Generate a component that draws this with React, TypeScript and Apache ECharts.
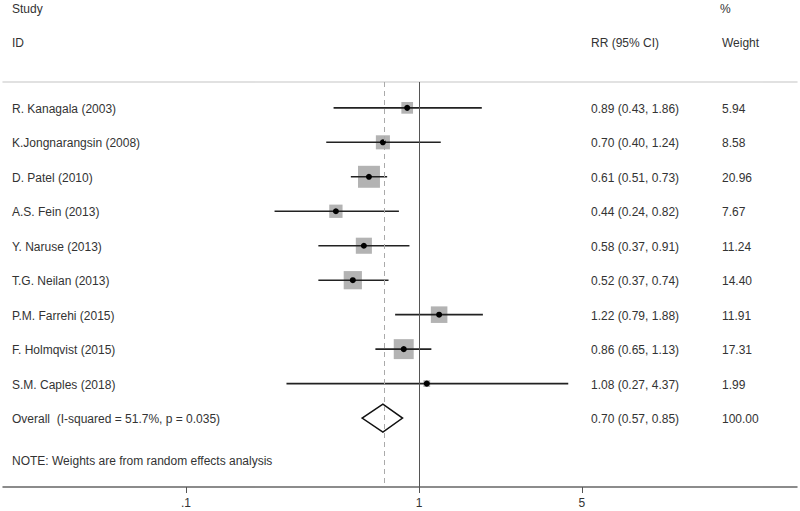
import React, { useEffect, useRef } from "react";
import * as echarts from "echarts";

const studies = [
  "R. Kanagala (2003)",
  "K.Jongnarangsin (2008)",
  "D. Patel (2010)",
  "A.S. Fein (2013)",
  "Y. Naruse (2013)",
  "T.G. Neilan (2013)",
  "P.M. Farrehi (2015)",
  "F. Holmqvist (2015)",
  "S.M. Caples (2018)",
];
const rr = [0.89, 0.7, 0.61, 0.44, 0.58, 0.52, 1.22, 0.86, 1.08];
const lower = [0.43, 0.4, 0.51, 0.24, 0.37, 0.37, 0.79, 0.65, 0.27];
const upper = [1.86, 1.24, 0.73, 0.82, 0.91, 0.74, 1.88, 1.13, 4.37];
const weights = [5.94, 8.58, 20.96, 7.67, 11.24, 14.4, 11.91, 17.31, 1.99];

const overallLabel = "Overall  (I-squared = 51.7%, p = 0.035)";
const overall = { rr: 0.7, lower: 0.57, upper: 0.85, weight: 100.0 };

const tickValues = [0.1, 1, 5];
const tickLabels = [".1", "1", "5"];

const FONT = "'Liberation Sans', Arial, Helvetica, sans-serif";
const TXT = "#333";

const lg = (v: number) => Math.log10(v);
const fmt = (v: number) => v.toFixed(2);

export default function App() {
  const ref = useRef<HTMLDivElement>(null);
  useEffect(() => {
    if (!ref.current) return;
    const chart = echarts.init(ref.current, null, { renderer: "svg" });

    const rows = studies.map((s, i) => [lg(rr[i]), i, lg(lower[i]), lg(upper[i]), weights[i], 0]);
    rows.push([lg(overall.rr), studies.length, lg(overall.lower), lg(overall.upper), overall.weight, 1]);
    const names = [...studies, overallLabel];
    const rrAll = [...rr, overall.rr];
    const loAll = [...lower, overall.lower];
    const hiAll = [...upper, overall.upper];
    const wAll = [...weights, overall.weight];

    const tickLog = tickValues.map(lg);

    const textStyle = (x: number, y: number, text: string) => ({
      type: "text",
      x,
      y,
      style: {
        text,
        fill: TXT,
        font: `12px ${FONT}`,
        textAlign: "left",
        textVerticalAlign: "middle",
      },
    });

    const option: any = {
      animation: false,
      grid: { left: 3, right: 3, top: 82, bottom: 24, show: false },
      xAxis: [
        {
          type: "value",
          min: -1.785,
          max: 1.622,
          splitLine: { show: false },
          axisLine: { show: true, onZero: false, lineStyle: { color: "#666", width: 1.5 } },
          axisTick: {
            show: true,
            customValues: tickLog,
            length: 6,
            lineStyle: { color: "#555", width: 1 },
          },
          axisLabel: {
            show: true,
            customValues: tickLog,
            margin: 10,
            color: TXT,
            fontSize: 12,
            fontFamily: FONT,
            formatter: (v: number) => {
              const idx = tickLog.findIndex((t) => Math.abs(t - v) < 1e-6);
              return idx >= 0 ? tickLabels[idx] : "";
            },
          },
        },
        {
          type: "value",
          position: "top",
          min: -1.785,
          max: 1.622,
          splitLine: { show: false },
          axisLine: { show: true, onZero: false, lineStyle: { color: "#d8d8d8", width: 1.5 } },
          axisTick: { show: false },
          axisLabel: { show: false },
        },
      ],
      yAxis: {
        type: "value",
        inverse: true,
        min: -0.75,
        max: 11,
        show: false,
      },
      series: [
        {
          type: "custom",
          xAxisIndex: 0,
          clip: false,
          encode: { x: [0, 2, 3], y: 1 },
          data: rows,
          renderItem: (params: any, api: any) => {
            const i = params.dataIndex;
            const est = api.value(0);
            const row = api.value(1);
            const lo = api.value(2);
            const hi = api.value(3);
            const w = api.value(4);
            const isOverall = api.value(5) === 1;
            const pE = api.coord([est, row]);
            const pL = api.coord([lo, row]);
            const pH = api.coord([hi, row]);
            const y = pE[1];
            const children: any[] = [];
            if (isOverall) {
              const h = 14;
              children.push({
                type: "polygon",
                shape: {
                  points: [
                    [pL[0], y],
                    [pE[0], y - h],
                    [pH[0], y],
                    [pE[0], y + h],
                  ],
                },
                style: { fill: "#fff", stroke: "#111", lineWidth: 1.5 },
              });
            } else {
              const side = 4.8 * Math.sqrt(w);
              children.push({
                type: "rect",
                shape: { x: pE[0] - side / 2, y: y - side / 2, width: side, height: side },
                style: { fill: "#b3b3b3" },
              });
              children.push({
                type: "line",
                shape: { x1: pL[0], y1: y, x2: pH[0], y2: y },
                style: { stroke: "#222", lineWidth: 1.6 },
              });
              children.push({
                type: "circle",
                shape: { cx: pE[0], cy: y, r: 3 },
                style: { fill: "#000" },
              });
            }
            children.push(textStyle(12, y + 1, names[i]));
            children.push(
              textStyle(591, y + 1, `${fmt(rrAll[i])} (${fmt(loAll[i])}, ${fmt(hiAll[i])})`)
            );
            children.push(textStyle(722, y + 1, fmt(wAll[i])));
            return { type: "group", children };
          },
          markLine: {
            silent: true,
            symbol: "none",
            label: { show: false },
            data: [
              { xAxis: 0, lineStyle: { color: "#555", width: 1, type: "solid" } },
              { xAxis: lg(overall.rr), lineStyle: { color: "#aaa", width: 1, type: [5, 4] } },
            ],
          },
          z: 3,
        },
      ],
      graphic: [
        textStyle(12, 9, "Study"),
        textStyle(12, 43, "ID"),
        textStyle(720, 9, "%"),
        textStyle(591, 43, "RR (95% CI)"),
        textStyle(722, 43, "Weight"),
        textStyle(12, 461, "NOTE: Weights are from random effects analysis"),
      ],
    };
    chart.setOption(option);
    return () => chart.dispose();
  }, []);
  return <div ref={ref} style={{ width: 800, height: 511, position: "absolute", left: 0, top: 0, background: "#fff" }} />;
}
